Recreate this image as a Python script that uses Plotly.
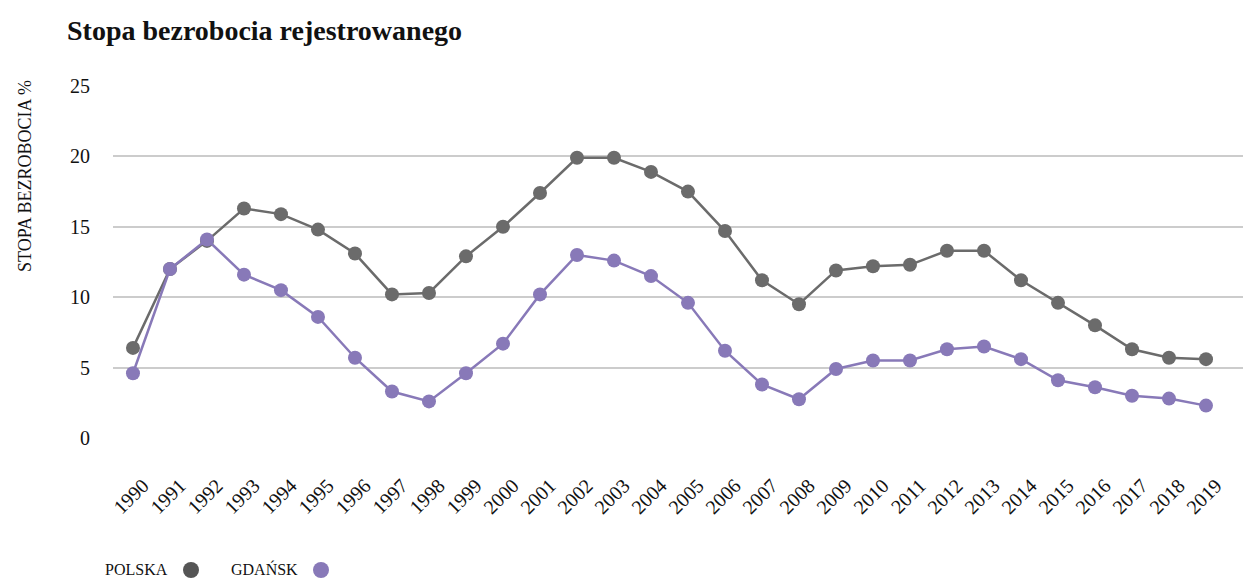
import plotly.graph_objects as go

years = list(range(1990, 2020))
year_labels = [str(y) for y in years]
polska = [6.4, 12.0, 14.0, 16.3, 15.9, 14.8, 13.1, 10.2, 10.3, 12.9, 15.0, 17.4, 19.9, 19.9,
          18.9, 17.5, 14.7, 11.2, 9.5, 11.9, 12.2, 12.3, 13.3, 13.3, 11.2, 9.6, 8.0, 6.3, 5.7, 5.6]
gdansk = [4.6, 12.0, 14.1, 11.6, 10.5, 8.6, 5.7, 3.3, 2.6, 4.6, 6.7, 10.2, 13.0, 12.6,
          11.5, 9.6, 6.2, 3.8, 2.75, 4.9, 5.5, 5.5, 6.3, 6.5, 5.6, 4.1, 3.6, 3.0, 2.8, 2.3]
y_ticks = [0, 5, 10, 15, 20, 25]

GRAY = "#6b6b6b"
GRAY_LEG = "#555555"
PURPLE = "#8879b8"
FONT = "Liberation Serif"

W, H = 1243, 579
L, R, T, B = 113, 0, 86, 141
PW, PH = W - L - R, H - T - B


def px(x):
    return (x - L) / PW


def py(y):
    return (H - B - y) / PH


fig = go.Figure()
fig.add_trace(go.Scatter(x=years, y=polska, name="POLSKA", mode="lines+markers",
                         line=dict(color=GRAY, width=2.5),
                         marker=dict(color=GRAY, size=14)))
fig.add_trace(go.Scatter(x=years, y=gdansk, name="GDAŃSK", mode="lines+markers",
                         line=dict(color=PURPLE, width=2.5),
                         marker=dict(color=PURPLE, size=14)))

legend_items = [("POLSKA", 104, 191, GRAY_LEG), ("GDAŃSK", 230, 321, PURPLE)]
annotations = [
    dict(text="STOPA BEZROBOCIA %", xref="paper", yref="paper",
         x=px(25), y=py(78), xanchor="center", yanchor="top",
         textangle=-90, showarrow=False,
         font=dict(family=FONT, size=18, color="#111111")),
]
shapes = []
for label, tx, cx, col in legend_items:
    annotations.append(dict(text=label, xref="paper", yref="paper", x=px(tx), y=py(579),
                            xanchor="left", yanchor="bottom", showarrow=False, borderpad=0,
                            font=dict(family=FONT, size=16, color="#111111")))
    shapes.append(dict(type="circle", xref="paper", yref="paper",
                       xsizemode="pixel", ysizemode="pixel",
                       xanchor=px(cx), yanchor=py(570),
                       x0=-8, x1=8, y0=-8, y1=8,
                       fillcolor=col, line=dict(width=0)))

fig.update_layout(
    width=W, height=H,
    margin=dict(l=L, r=R, t=T, b=B),
    paper_bgcolor="white", plot_bgcolor="white",
    showlegend=False,
    font=dict(family=FONT, color="#111111"),
    title=dict(text="<b>Stopa bezrobocia rejestrowanego</b>", x=67 / W, xanchor="left",
               y=1 - 30 / H, yanchor="middle",
               font=dict(family=FONT, size=28, color="#111111")),
    xaxis=dict(range=[1989.46, 2020.0], tickvals=years, ticktext=year_labels,
               tickangle=-45, showgrid=False, zeroline=False, showline=False,
               tickfont=dict(family=FONT, size=20, color="#111111"), ticks="",
               ticklabelstandoff=31, ticklabelshift=10),
    yaxis=dict(range=[0, 25], tickvals=y_ticks, showgrid=True, gridcolor="#cccccc",
               gridwidth=1.5, zeroline=False, showline=False,
               tickfont=dict(family=FONT, size=20, color="#111111"), ticks="",
               ticklabelstandoff=22),
    annotations=annotations,
    shapes=shapes,
)

fig.write_html("out.html", config={"displayModeBar": False},
               post_script="document.body.style.margin='0';")
